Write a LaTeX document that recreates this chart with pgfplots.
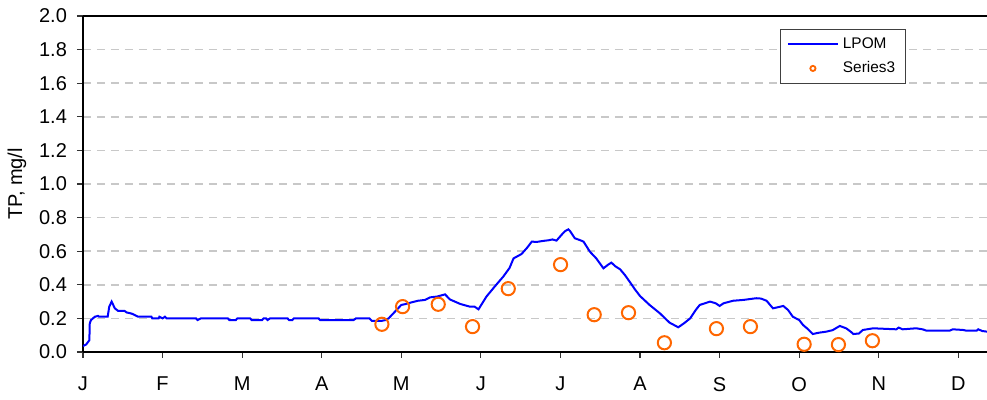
\documentclass[border=0pt]{standalone}
\usepackage{fontspec}
\setmainfont{Liberation Sans}
\usepackage{pgfplots}
\pgfplotsset{compat=1.18}

\definecolor{lpomblue}{RGB}{0,0,255}
\definecolor{obsorange}{RGB}{255,102,0}
\definecolor{gridgray}{RGB}{200,200,200}

% LPOM model output, x in months from 1 January
\pgfplotstableread{
u y
0.00 0.035
0.04 0.045
0.08 0.07
0.085 0.17
0.10 0.19
0.15 0.21
0.19 0.215
0.20 0.21
0.31 0.21
0.33 0.27
0.36 0.30
0.38 0.28
0.40 0.26
0.44 0.245
0.52 0.245
0.55 0.235
0.60 0.23
0.63 0.225
0.69 0.21
0.86 0.21
0.87 0.20
0.95 0.20
0.96 0.21
1.00 0.20
1.03 0.21
1.05 0.20
1.42 0.20
1.44 0.19
1.48 0.20
1.82 0.20
1.84 0.19
1.92 0.19
1.94 0.20
2.10 0.20
2.12 0.19
2.25 0.19
2.27 0.20
2.30 0.20
2.32 0.19
2.35 0.20
2.57 0.20
2.59 0.19
2.63 0.19
2.65 0.20
2.96 0.20
2.98 0.19
3.10 0.19
3.40 0.19
3.43 0.20
3.60 0.20
3.63 0.185
3.75 0.185
3.80 0.19
3.84 0.20
3.90 0.23
3.94 0.25
4.00 0.28
4.05 0.285
4.11 0.293
4.21 0.305
4.30 0.31
4.36 0.325
4.45 0.33
4.55 0.343
4.61 0.313
4.74 0.286
4.86 0.27
4.92 0.27
4.97 0.254
5.07 0.33
5.18 0.393
5.28 0.448
5.36 0.50
5.41 0.557
5.51 0.583
5.58 0.62
5.64 0.657
5.70 0.655
5.78 0.661
5.85 0.665
5.90 0.67
5.95 0.663
6.00 0.69
6.03 0.706
6.06 0.72
6.10 0.73
6.12 0.72
6.18 0.677
6.25 0.665
6.29 0.657
6.37 0.597
6.45 0.557
6.54 0.498
6.60 0.52
6.64 0.532
6.69 0.51
6.75 0.492
6.81 0.458
6.87 0.418
6.94 0.37
7.00 0.333
7.12 0.28
7.25 0.23
7.37 0.175
7.48 0.147
7.55 0.17
7.63 0.20
7.70 0.25
7.75 0.28
7.88 0.30
7.95 0.29
8.00 0.274
8.05 0.29
8.17 0.305
8.30 0.31
8.46 0.32
8.52 0.318
8.59 0.305
8.67 0.26
8.72 0.265
8.80 0.274
8.86 0.25
8.92 0.21
9.00 0.19
9.05 0.16
9.10 0.14
9.17 0.107
9.25 0.115
9.34 0.121
9.42 0.13
9.51 0.155
9.59 0.141
9.65 0.12
9.68 0.107
9.75 0.11
9.80 0.131
9.93 0.141
10.22 0.135
10.25 0.145
10.30 0.135
10.47 0.141
10.55 0.135
10.60 0.127
10.89 0.127
10.93 0.135
11.06 0.131
11.10 0.127
11.23 0.127
11.25 0.135
11.30 0.125
11.36 0.121
}\lpom

% measured TP
\pgfplotstableread{
u y
3.756 0.165
4.016 0.270
4.464 0.284
4.895 0.151
5.344 0.377
6.001 0.520
6.424 0.222
6.855 0.234
7.306 0.055
7.960 0.139
8.387 0.151
9.062 0.046
9.493 0.044
9.920 0.067
}\obs

\begin{document}
\begin{tikzpicture}
\path[use as bounding box] (-41.5pt,-24pt) rectangle (452pt,176pt);
\begin{axis}[
  at={(0,0)}, anchor=south west,
  scale only axis,
  width=452pt, height=168pt,
  xmin=0, xmax=11.36,
  ymin=0, ymax=2,
  axis x line*=bottom,
  axis y line*=left,
  axis line style={line width=1pt, black},
  tick align=outside,
  major tick length=3pt,
  tick style={line width=0.6pt, black!80},
  xtick={0,...,11},
  xticklabels={J,F,M,A,M,J,J,A,S,O,N,D},
  ytick={0,0.2,...,2.0},
  /pgf/number format/fixed,
  /pgf/number format/fixed zerofill,
  /pgf/number format/precision=1,
  /pgf/number format/assume math mode=true,
  ticklabel style={font=\fontsize{10}{12}\selectfont},
  xticklabel style={yshift=-6pt},
  yticklabel style={xshift=-1.5pt},
  ylabel={TP, mg/l},
  ylabel style={at={(axis description cs:0,0.5)}, anchor=center, yshift=33pt,
    font=\fontsize{10}{12}\selectfont},
  ymajorgrids,
  grid style={gridgray, line width=0.75pt, dash pattern=on 4pt off 3pt},
  legend style={at={(axis description cs:0.910,0.961)}, anchor=north east,
    draw=black!75, line width=0.5pt, font=\fontsize{7.7}{9}\selectfont,
    inner xsep=3pt, inner ysep=2pt, row sep=1pt},
  legend cell align=left,
]
\addplot[lpomblue, line width=1pt,
  legend image code/.code={\draw[lpomblue, line width=1pt] (2pt,0pt) -- (27pt,0pt);}]
  table[x=u, y=y] {\lpom};
\addlegendentry{LPOM}
\addplot[only marks, mark=o, mark size=3.3pt, mark options={obsorange, line width=1pt},
  legend image code/.code={\draw[obsorange, line width=0.9pt] (14.5pt,0pt) circle (1.3pt);}]
  table[x=u, y=y] {\obs};
\addlegendentry{Series3}
\draw[black, line width=1pt] (rel axis cs:0,1) -- (rel axis cs:1,1);
\end{axis}
\end{tikzpicture}
\end{document}
